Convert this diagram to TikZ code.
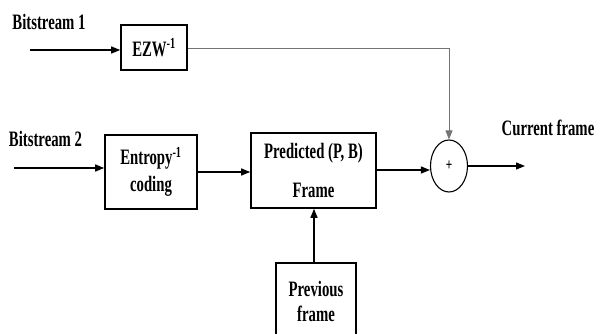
\documentclass[tikz,border=0pt]{standalone}
\usepackage{fontspec}
\setmainfont[FakeStretch=0.67]{Liberation Serif}
\usetikzlibrary{arrows.meta,shapes.geometric}

\tikzset{
  blockbox/.style={draw=black, line width=1.6pt, align=center, inner sep=0pt,
                   font=\fontsize{22}{24}\selectfont\bfseries},
  sumnode/.style={draw=black, line width=1.1pt, ellipse, inner sep=0pt,
                  minimum width=37pt, minimum height=52pt,
                  font=\fontsize{17}{18}\selectfont\bfseries},
  lbl/.style={inner sep=0pt, font=\fontsize{22}{24}\selectfont\bfseries},
  flow/.style={line width=1.3pt, -{Triangle[length=9pt,width=7pt]}},
  feed/.style={line width=0.8pt, draw=black!55, -{Triangle[length=9pt,width=7pt]}},
}

\begin{document}
\begin{tikzpicture}[x=1pt, y=-1pt]
  \useasboundingbox (0,0) rectangle (598,334);
  \clip (0,0) rectangle (598,334);

  % decoder blocks
  \node[blockbox, minimum width=66pt, minimum height=45pt] (ezw) at (154,47.5)
       {EZW\textsuperscript{-1}};
  \node[blockbox, minimum width=92pt, minimum height=74pt] (ent) at (151,172)
       {Entropy\textsuperscript{-1}\\[3pt]coding};
  \node[blockbox, minimum width=125pt, minimum height=75pt] (pred) at (313.5,170.5)
       {Predicted (P, B)\\[15pt]Frame};
  \node[blockbox, minimum width=80pt, minimum height=88pt] (prev) at (316,307) {};
  \node[lbl, align=center] (prevtxt) at (316,301) {Previous\\[1pt]frame};

  % adder
  \node[sumnode] (sum) at (449,166) {+};

  % labels
  \node[lbl] (bs1) at (49,22) {Bitstream 1};
  \node[lbl] (bs2) at (45.5,139) {Bitstream 2};
  \node[lbl] (cur) at (548,128) {Current frame};

  % inputs
  \coordinate (in1) at (30,50);
  \coordinate (in2) at (14,168);
  \coordinate (out) at (525,166);
  \draw[flow] (in1) -- (in1 -| ezw.west);
  \draw[flow] (in2) -- (in2 -| ent.west);

  % signal path
  \draw[flow] (ent.east |- 0,172) -- (pred.west |- 0,172);
  \draw[flow] (pred.east |- 0,170) -- (sum.west |- 0,170);
  \draw[flow] (sum.east) -- (out);
  \draw[flow] (prev.north -| 314,0) -- (pred.south -| 314,0);
  \draw[feed] (ezw.east |- 0,48) -| (sum.north);
\end{tikzpicture}
\end{document}
